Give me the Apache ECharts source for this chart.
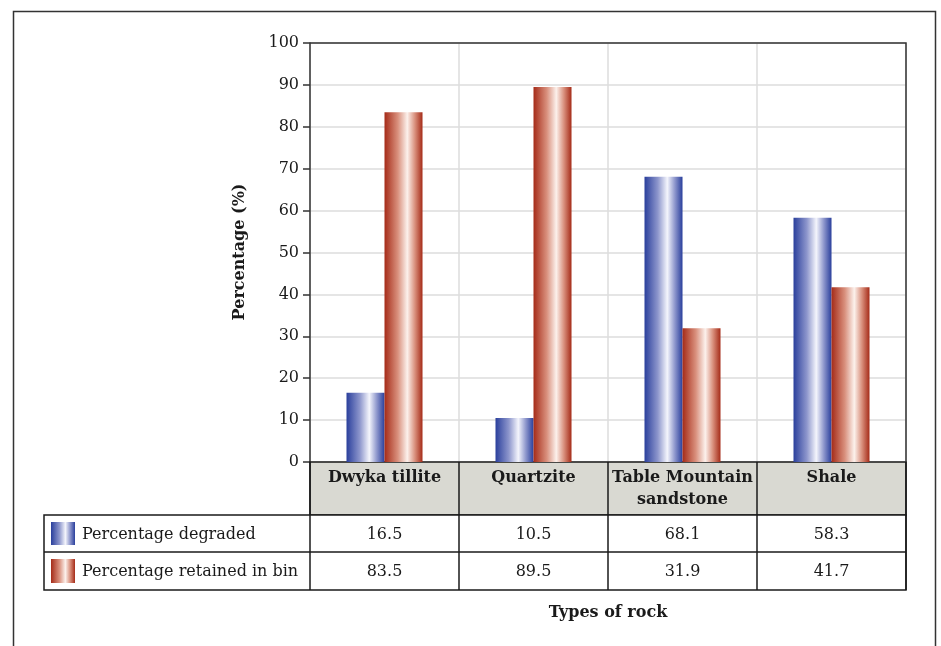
<!DOCTYPE html>
<html>
<head>
<meta charset="utf-8">
<style>
  html, body { margin: 0; padding: 0; background: #fff; }
  #chart { width: 941px; height: 646px; }
</style>
<script src="https://cdn.jsdelivr.net/npm/echarts@6/dist/echarts.min.js"></script>
</head>
<body>
<div id="chart"></div>
<script>
// Rock types and the two measured percentages
const rockTypes = ['Dwyka tillite', 'Quartzite', 'Table Mountain\nsandstone', 'Shale'];
const degraded = [16.5, 10.5, 68.1, 58.3];
const retained = [83.5, 89.5, 31.9, 41.7];
const seriesNames = ['Percentage degraded', 'Percentage retained in bin'];
const yTicks = [0, 10, 20, 30, 40, 50, 60, 70, 80, 90, 100];

const FONT = '"DejaVu Serif", "Liberation Serif", serif';

// Plot area geometry
const W = 941, H = 646;
const plotL = 310, plotR = 906, plotT = 43, plotB = 462;
const headerB = 515, row1B = 552, row2B = 590;
const tableL = 44;
const catW = (plotR - plotL) / rockTypes.length;

function barGradient(dark, light, mid) {
  return {
    type: 'linear', x: 0, y: 0, x2: 1, y2: 0,
    colorStops: [
      { offset: 0, color: dark },
      { offset: 0.35, color: mid },
      { offset: 0.6, color: light },
      { offset: 0.8, color: mid },
      { offset: 1, color: dark }
    ]
  };
}
const blueFill = barGradient('#2a3f9c', '#f4f5fc', '#8d96cc');
const redFill = barGradient('#a52b18', '#fcf1ec', '#d9907d');

const chart = echarts.init(document.getElementById('chart'), null, { renderer: 'canvas' });

const g = [];
const lineStyle = { stroke: '#1a1a1a', lineWidth: 1.5 };
// outer frame
g.push({ type: 'rect', shape: { x: 13.5, y: 11.5, width: 922, height: 660 },
  style: { fill: null, stroke: '#333', lineWidth: 1.5 }, silent: true });
// plot frame: top and right edges
g.push({ type: 'polyline', shape: { points: [[plotL, plotT], [plotR, plotT], [plotR, plotB]] },
  style: { fill: null, stroke: '#333', lineWidth: 1.5 }, z: 5 });
// data table: header fill
g.push({ type: 'rect', shape: { x: plotL, y: plotB, width: plotR - plotL, height: headerB - plotB },
  style: { fill: '#d9d9d2', stroke: '#1a1a1a', lineWidth: 1.5 }, z: 1 });
// data table: body rows
g.push({ type: 'rect', shape: { x: tableL, y: headerB, width: plotR - tableL, height: row2B - headerB },
  style: { fill: '#fff', stroke: '#1a1a1a', lineWidth: 1.5 }, z: 1 });
g.push({ type: 'line', shape: { x1: tableL, y1: row1B, x2: plotR, y2: row1B }, style: lineStyle, z: 2 });
for (let i = 0; i <= rockTypes.length; i++) {
  const x = plotL + i * catW;
  g.push({ type: 'line', shape: { x1: x, y1: plotB, x2: x, y2: row2B }, style: lineStyle, z: 2 });
}
// header labels
rockTypes.forEach((name, i) => {
  g.push({ type: 'text', x: plotL + (i + 0.5) * catW, y: plotB + 5, z: 3,
    style: { text: name, font: 'bold 16px ' + FONT, fill: '#1a1a1a', align: 'center',
      verticalAlign: 'top', lineHeight: 22 } });
});
// legend swatches and row values
const rows = [
  { name: seriesNames[0], vals: degraded, fill: blueFill, top: headerB, bot: row1B },
  { name: seriesNames[1], vals: retained, fill: redFill, top: row1B, bot: row2B }
];
rows.forEach(r => {
  const cy = (r.top + r.bot) / 2 + 1;
  g.push({ type: 'rect', shape: { x: 51, y: r.top + 7, width: 24, height: r.bot - r.top - 14 },
    style: { fill: r.fill }, z: 3 });
  g.push({ type: 'text', x: 82, y: cy, z: 3,
    style: { text: r.name, font: '16px ' + FONT, fill: '#1a1a1a', align: 'left', verticalAlign: 'middle' } });
  r.vals.forEach((v, i) => {
    g.push({ type: 'text', x: plotL + (i + 0.5) * catW, y: cy, z: 3,
      style: { text: v.toFixed(1), font: '16px ' + FONT, fill: '#1a1a1a', align: 'center', verticalAlign: 'middle' } });
  });
});
// axis titles
g.push({ type: 'text', x: (plotL + plotR) / 2, y: 613, z: 3,
  style: { text: 'Types of rock', font: 'bold 16px ' + FONT, fill: '#1a1a1a', align: 'center', verticalAlign: 'middle' } });
g.push({ type: 'text', x: 240, y: 252, rotation: Math.PI / 2, z: 3,
  style: { text: 'Percentage (%)', font: 'bold 16px ' + FONT, fill: '#1a1a1a', align: 'center', verticalAlign: 'middle' } });

chart.setOption({
  animation: false,
  backgroundColor: '#fff',
  grid: {
    left: plotL, right: W - plotR, top: plotT, bottom: H - plotB,
    show: false
  },
  xAxis: {
    type: 'category',
    data: rockTypes,
    axisLine: { show: false },
    axisTick: { show: false },
    axisLabel: { show: false },
    splitLine: { show: true, lineStyle: { color: '#dcdcdc', width: 1.5 } }
  },
  yAxis: {
    type: 'value',
    min: 0, max: 100, interval: 10,
    axisLine: { show: true, lineStyle: { color: '#333', width: 1.5 } },
    axisTick: { show: true, length: 7, lineStyle: { color: '#333', width: 1.5 } },
    axisLabel: {
      margin: 11, fontFamily: FONT, fontSize: 16, color: '#1a1a1a',
      formatter: v => (yTicks.includes(v) ? String(v) : '')
    },
    splitLine: { show: true, lineStyle: { color: '#dcdcdc', width: 1.5 } }
  },
  series: [
    { name: seriesNames[0], type: 'bar', data: degraded, barWidth: 38, barGap: '0%',
      itemStyle: { color: blueFill } },
    { name: seriesNames[1], type: 'bar', data: retained, barWidth: 38, barGap: '0%',
      itemStyle: { color: redFill } }
  ],
  graphic: g
});
</script>
</body>
</html>
